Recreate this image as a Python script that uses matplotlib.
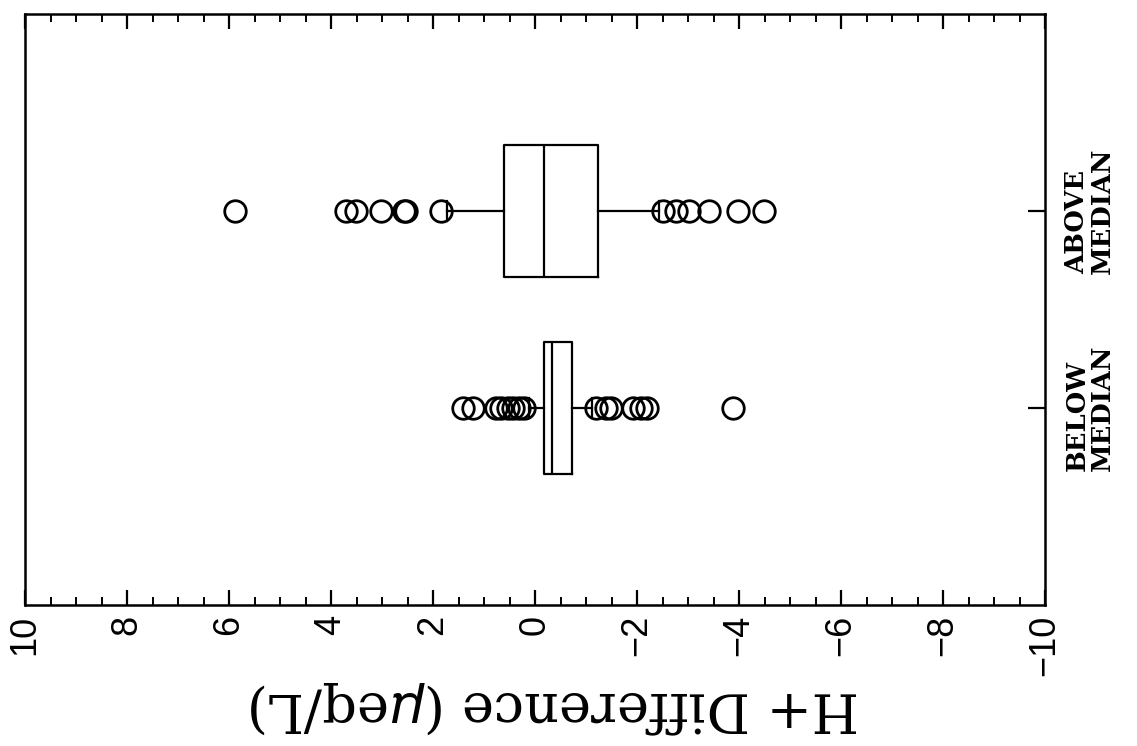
import matplotlib
matplotlib.use("Agg")
import matplotlib.pyplot as plt
from matplotlib.ticker import MultipleLocator

categories = ["BELOW\nMEDIAN", "ABOVE\nMEDIAN"]
positions = [1, 2]

below_box = dict(whislo=-1.12, q1=-0.73, med=-0.33, q3=-0.18, whishi=0.12)
below_fliers = [1.41, 1.22, 0.76, 0.67, 0.53, 0.43, 0.31, 0.22,
                -1.20, -1.39, -1.49, -1.92, -2.08, -2.20, -3.88]
above_box = dict(whislo=-2.43, q1=-1.24, med=-0.18, q3=0.61, whishi=1.72)
above_fliers = [5.88, 3.71, 3.51, 3.02, 2.57, 2.52, 1.84,
                -2.50, -2.76, -3.02, -3.41, -3.98, -4.49]

value_ticks = [10, 8, 6, 4, 2, 0, -2, -4, -6, -8, -10]
xlabel = "H+ Difference ($\\mu$eq/L)"

fig = plt.figure(figsize=(11.37, 7.46), dpi=100)
ax = fig.add_axes([25/1137, 141/746, 1020/1137, 591/746])

stats = []
for lab, b, fl in zip(categories, [below_box, above_box], [below_fliers, above_fliers]):
    d = dict(b)
    d["fliers"] = fl
    d["label"] = lab
    stats.append(d)

lw = 1.6
ax.bxp(stats, positions=positions, orientation="horizontal", widths=0.67,
       showfliers=True,
       boxprops=dict(color="black", linewidth=lw),
       medianprops=dict(color="black", linewidth=lw),
       whiskerprops=dict(color="black", linewidth=lw),
       capprops=dict(color="black", linewidth=lw),
       capwidths=0.1,
       flierprops=dict(marker="o", markersize=15.5, markerfacecolor="none",
                       markeredgecolor="black", markeredgewidth=2.0))

ax.set_xlim(10, -10)
ax.set_ylim(0, 3)
ax.set_xticks(value_ticks)
ax.set_xticklabels([str(v).replace("-", "\u2212") for v in value_ticks],
                   rotation=90, fontsize=26, family="Liberation Sans")
ax.xaxis.set_minor_locator(MultipleLocator(0.5))
ax.tick_params(axis="x", which="major", direction="in", length=11, width=1.6,
               top=True, bottom=True, pad=7)
ax.tick_params(axis="x", which="minor", direction="in", length=6, width=1.4,
               top=True, bottom=True)

ax.yaxis.tick_right()
ax.set_yticks(positions)
ax.set_yticklabels(categories, rotation=90, fontsize=18.5, fontweight="bold",
                   family="DejaVu Serif", va="center", ha="left",
                   linespacing=1.0)
ax.tick_params(axis="y", which="major", direction="in", length=12, width=1.6,
               right=True, left=False, pad=14)

ax.set_xlabel(xlabel, rotation=180, fontsize=39, family="DejaVu Serif")
ax.xaxis.set_label_coords(0.52, -0.125)

for s in ax.spines.values():
    s.set_linewidth(1.8)

fig.savefig("out.png", dpi=100)
